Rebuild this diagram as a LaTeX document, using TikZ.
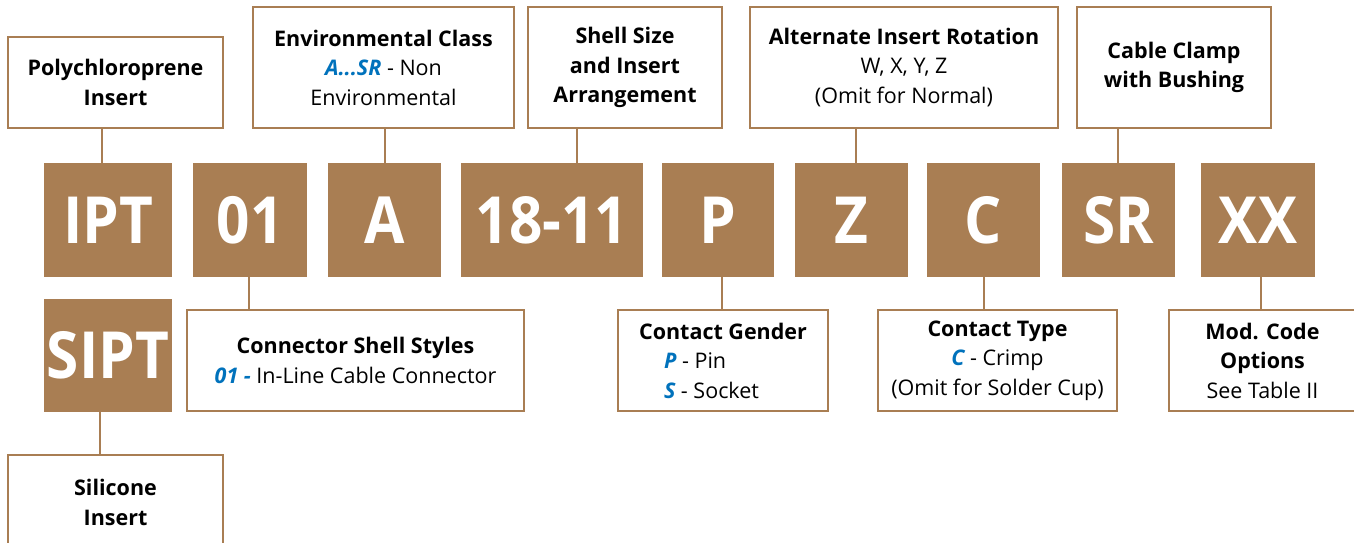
\documentclass[tikz,border=0pt]{standalone}
\usepackage{fontspec}
\setmainfont{Open Sans}
\definecolor{brn}{RGB}{169,126,83}
\definecolor{blu}{RGB}{0,114,188}
\newcommand{\cd}[1]{\scalebox{0.9}[1]{#1}}
\tikzset{
  code/.style={fill=brn, text=white, inner sep=0pt, font=\fontsize{65}{65}\selectfont\bfseries},
  lbl/.style={draw=brn, line width=2.5pt, fill=white, inner sep=0pt, align=center, font=\fontsize{21.5}{29.5}\selectfont},
  conn/.style={draw=brn, line width=2.5pt},
}
\newcommand{\hl}[1]{\textcolor{blu}{\bfseries\itshape #1}}
\begin{document}
\begin{tikzpicture}[x=1pt,y=-1pt]
\useasboundingbox (0,0) rectangle (1354,543);
% code boxes
\node[code, minimum width=128pt, minimum height=114pt] (ipt) at (108,220) {\cd{IPT}};
\node[code, minimum width=114pt, minimum height=114pt] (c01) at (250,220) {\cd{01}};
\node[code, minimum width=113pt, minimum height=114pt] (cA) at (384.5,220) {\cd{A}};
\node[code, minimum width=182pt, minimum height=114pt] (c1811) at (552,220) {\cd{18-11}};
\node[code, minimum width=112pt, minimum height=114pt] (cP) at (718,220) {\cd{P}};
\node[code, minimum width=113pt, minimum height=114pt] (cZ) at (851.5,220) {\cd{Z}};
\node[code, minimum width=113pt, minimum height=114pt] (cC) at (983.5,220) {\cd{C}};
\node[code, minimum width=113pt, minimum height=114pt] (cSR) at (1118.5,220) {\cd{SR}};
\node[code, minimum width=114pt, minimum height=114pt] (cXX) at (1258,220) {\cd{XX}};
\node[code, minimum width=128pt, minimum height=113pt] (sipt) at (108,355.5) {\cd{SIPT}};
% label boxes
\node[lbl, minimum width=215pt, minimum height=91pt] (poly) at (115.5,82.5) {\bfseries Polychloroprene\\\bfseries Insert};
\node[lbl, minimum width=261pt, minimum height=121pt] (env) at (383.5,67.5) {\bfseries Environmental Class\\\hl{A...SR} - Non\\Environmental};
\node[lbl, minimum width=194pt, minimum height=121pt] (shell) at (625,67.5) {\bfseries Shell Size\\\bfseries and Insert\\\bfseries Arrangement};
\node[lbl, minimum width=308pt, minimum height=121pt] (alt) at (904,67.5) {\bfseries Alternate Insert Rotation\\W, X, Y, Z\\(Omit for Normal)};
\node[lbl, minimum width=194pt, minimum height=121pt] (cable) at (1174,67.5) {\bfseries Cable Clamp\\\bfseries with Bushing};
\node[lbl, minimum width=337pt, minimum height=101pt] (shellst) at (355.5,360.5) {\bfseries Connector Shell Styles\\\hl{01 -} In-Line Cable Connector};
\node[lbl, minimum width=210pt, minimum height=101pt] (gender) at (723,360.5) {\bfseries Contact Gender\\\makebox[118pt][l]{\hl{P} - Pin}\\\makebox[118pt][l]{\hl{S} - Socket}};
\node[lbl, minimum width=239pt, minimum height=101pt] (ctype) at (997.5,360.5) {\bfseries Contact Type\\\hl{C} - Crimp\\(Omit for Solder Cup)};
\node[lbl, minimum width=187pt, minimum height=101pt] (mod) at (1262.5,360.5) {\bfseries Mod. Code\\\bfseries Options\\See Table II};
\node[lbl, minimum width=215pt, minimum height=95pt] (sil) at (115.5,502.5) {\bfseries Silicone\\\bfseries Insert};
% connectors
\draw[conn] (poly.south -| 102,0) -- (ipt.north -| 102,0);
\draw[conn] (env.south -| 385,0) -- (cA.north -| 385,0);
\draw[conn] (shell.south -| 577,0) -- (c1811.north -| 577,0);
\draw[conn] (alt.south -| 856,0) -- (cZ.north -| 856,0);
\draw[conn] (cable.south -| 1118,0) -- (cSR.north -| 1118,0);
\draw[conn] (c01.south -| 249,0) -- (shellst.north -| 249,0);
\draw[conn] (cP.south -| 722,0) -- (gender.north -| 722,0);
\draw[conn] (cC.south -| 984,0) -- (ctype.north -| 984,0);
\draw[conn] (cXX.south -| 1261,0) -- (mod.north -| 1261,0);
\draw[conn] (sipt.south -| 100,0) -- (sil.north -| 100,0);
\end{tikzpicture}
\end{document}
